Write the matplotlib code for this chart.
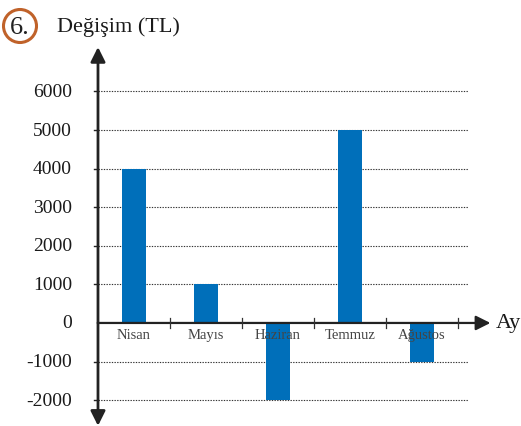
import matplotlib.pyplot as plt
from matplotlib.patches import Circle, FancyArrowPatch

aylar = ['Nisan', 'Mayıs', 'Haziran', 'Temmuz', 'Ağustos']
degisim = [4000, 1000, -2000, 5000, -1000]
y_ticks = [-2000, -1000, 0, 1000, 2000, 3000, 4000, 5000, 6000]

plt.rcParams['font.family'] = ['Liberation Serif', 'DejaVu Serif']

fig = plt.figure(figsize=(5.21, 4.27), dpi=100)
ax = fig.add_axes([0, 0, 1, 1])
# one category = 72 px, 1000 TL = 38.6 px
ax.set_xlim(-1.861, 5.375)
ax.set_ylim(-2670, 8395)
ax.axis('off')

x = list(range(len(aylar)))
x0 = -0.5
x_end = 4.64

# dotted gridlines with small ticks left of the axis
for v in y_ticks:
    if v != 0:
        ax.plot([x0, x_end], [v, v], color='#333333', lw=0.8, ls=(0, (1.2, 1.2)), zorder=1)
        ax.plot([x0 - 0.05, x0], [v, v], color='#222222', lw=1, zorder=3)
    ax.text(x0 - 0.36, v, str(v), ha='right', va='center', fontsize=14, color='#1a1a1a')

ax.bar(x, degisim, width=0.32, color='#006FBA', zorder=2)

# x axis with arrow and ticks between months
ax.add_patch(FancyArrowPatch((x0, 0), (4.95, 0), arrowstyle='-|>', mutation_scale=22,
                             color='#222222', lw=1.6, zorder=4, shrinkA=0, shrinkB=0))
for i in range(len(aylar)):
    ax.plot([i + 0.5, i + 0.5], [-130, 130], color='#333333', lw=0.9, zorder=4)

# y axis with arrows on both ends
ax.add_patch(FancyArrowPatch((x0, 0), (x0, 7150), arrowstyle='-|>', mutation_scale=22,
                             color='#222222', lw=2, zorder=4, shrinkA=0, shrinkB=0))
ax.add_patch(FancyArrowPatch((x0, 0), (x0, -2665), arrowstyle='-|>', mutation_scale=22,
                             color='#222222', lw=2, zorder=4, shrinkA=0, shrinkB=0))

for i, ay in enumerate(aylar):
    ax.text(i, -130, ay, ha='center', va='top', fontsize=10.5, color='#444444', zorder=5)

ax.text(5.03, 0, 'Ay', ha='left', va='center', fontsize=16, color='#1a1a1a')
ax.text(-1.07, 7690, 'Değişim (TL)', ha='left', va='center', fontsize=16, color='#1a1a1a')

# numbered circle
ax.add_patch(Circle((20, 400), 16.5, transform=None, fill=False, ec='#C0622A', lw=2.2))
fig.text(20 / 521, 1 - 28 / 427, '6.', ha='center', va='center', fontsize=19, color='#222222')

fig.savefig('out.png', dpi=100)
